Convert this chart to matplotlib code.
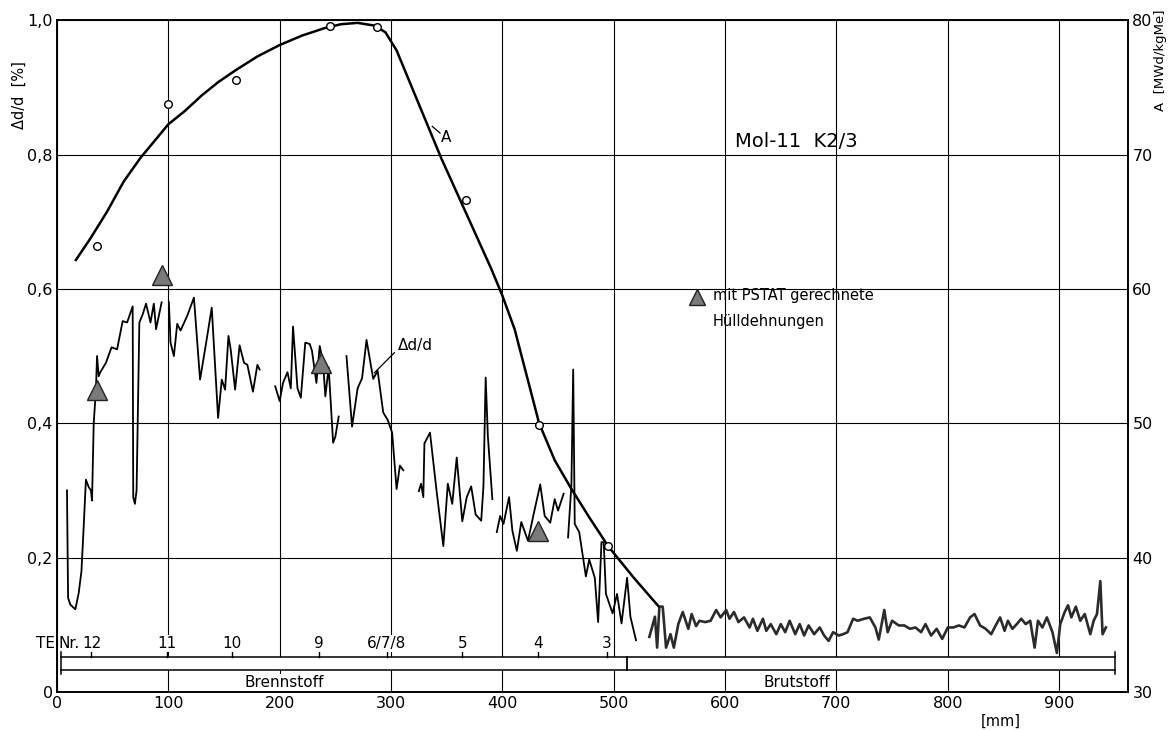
import numpy as np
import matplotlib
matplotlib.use("Agg")
import matplotlib.pyplot as plt
from matplotlib.patches import Rectangle

plt.rcParams['font.family'] = ['DejaVu Sans']
plt.rcParams['font.size'] = 11

# --- Abbrand-Kurve A [MWd/kgMe] (rechte Achse) ---
a_x = [17, 30, 45, 60, 75, 90, 100, 115, 130, 145, 160, 180, 200, 220, 240, 255, 270, 285, 295, 305,
       315, 330, 345, 360, 375, 390, 400, 411, 422, 433, 447, 461, 478, 495, 518, 540]
a_y = [62.15, 63.75, 65.75, 68.0, 69.75, 71.25, 72.25, 73.25, 74.4, 75.4, 76.25, 77.3, 78.15, 78.85, 79.4, 79.7, 79.8, 79.6, 79.1, 77.75,
       75.75, 72.75, 69.75, 67.0, 64.25, 61.5, 59.5, 57.0, 53.5, 50.0, 47.25, 45.25, 43.0, 40.85, 38.5, 36.4]

# Messpunkte A (Kreise)
pts_x = [36, 100, 161, 245, 287, 367, 433, 495]
pts_a = [63.2, 73.75, 75.55, 79.55, 79.5, 66.65, 49.85, 40.85]

# PSTAT-Huelldehnungen (Dreiecke), linke Achse
pstat_x = [35.6, 94, 237, 432]
pstat_y = [0.45, 0.621, 0.49, 0.24]

# --- gemessene Durchmesseraenderung dd/d [%], Abschnitte ---
seg1_x = [9, 10, 12, 16.5, 19.5, 22, 24, 26, 28.5, 30.5, 31.5, 33, 35, 36, 37.5, 38.6, 44, 49, 54, 59, 63, 68, 68.5, 70, 71.5, 72.5, 74, 77, 80, 84, 87, 89, 94]
seg1_y = [0.30, 0.14, 0.13, 0.123, 0.147, 0.18, 0.246, 0.316, 0.305, 0.30, 0.285, 0.40, 0.45, 0.50, 0.47, 0.475, 0.49, 0.513, 0.51, 0.552, 0.55, 0.574, 0.29, 0.28, 0.30, 0.40, 0.55, 0.562, 0.578, 0.55, 0.578, 0.54, 0.58]
seg2_x = [100.5, 102, 105, 108, 111, 117, 123, 128.5, 134, 139, 144.7, 148, 151, 154, 156, 160, 164, 168, 171, 176, 180, 182]
seg2_y = [0.58, 0.52, 0.50, 0.548, 0.538, 0.56, 0.587, 0.465, 0.52, 0.572, 0.408, 0.465, 0.45, 0.53, 0.51, 0.45, 0.516, 0.49, 0.487, 0.447, 0.487, 0.48]
seg3_x = [196, 200, 203, 207, 210, 212, 216, 219, 223, 227, 229, 233, 236, 239, 241, 244, 248, 250, 253]
seg3_y = [0.455, 0.433, 0.46, 0.476, 0.452, 0.544, 0.452, 0.438, 0.52, 0.518, 0.508, 0.46, 0.515, 0.49, 0.44, 0.483, 0.371, 0.38, 0.41]
seg4_x = [260, 265, 270, 274, 278, 284, 288, 293, 297, 301, 305, 308, 311]
seg4_y = [0.50, 0.395, 0.452, 0.467, 0.524, 0.466, 0.478, 0.416, 0.405, 0.386, 0.302, 0.337, 0.33]
seg5_x = [325, 327, 329, 330, 335, 341, 347, 351, 355, 359, 364, 368, 372, 376, 381, 383, 385, 387, 391]
seg5_y = [0.299, 0.31, 0.29, 0.37, 0.386, 0.298, 0.217, 0.31, 0.28, 0.349, 0.254, 0.29, 0.306, 0.264, 0.255, 0.306, 0.468, 0.38, 0.287]
seg6_x = [395, 398, 401, 406, 409, 413, 417, 423, 428, 434, 438, 443, 447, 450, 455]
seg6_y = [0.238, 0.262, 0.25, 0.29, 0.24, 0.21, 0.253, 0.225, 0.264, 0.309, 0.262, 0.252, 0.287, 0.27, 0.295]
seg7_x = [459, 462, 463.6, 465, 469, 475, 478, 483, 486, 489, 491, 493, 499, 503, 507, 512, 515, 520]
seg7_y = [0.23, 0.308, 0.48, 0.25, 0.238, 0.172, 0.197, 0.17, 0.104, 0.223, 0.223, 0.146, 0.117, 0.146, 0.102, 0.17, 0.112, 0.077]
seg8_x = [532, 537, 539, 541, 544, 547, 551, 554, 558, 562, 567, 570, 574, 577, 582, 587, 592, 596, 601, 604,
          608, 612, 617, 622, 625, 629, 634, 637, 641, 646, 650, 654, 658, 663, 667, 671, 675, 680, 685, 689,
          693, 697, 702, 706, 710, 715, 719, 725, 730, 735, 738, 743, 746, 750, 756, 761, 766, 771, 776, 780,
          785, 790, 795, 800, 805, 810, 815, 820, 824, 829, 834, 839, 843, 847, 851, 854, 858, 862, 866, 870,
          874, 878, 881, 885, 889, 894, 898, 901, 905, 908, 911, 915, 919, 923, 928, 931, 934, 937, 939, 942]
seg8_y = [0.082, 0.112, 0.066, 0.127, 0.127, 0.066, 0.086, 0.066, 0.101, 0.119, 0.094, 0.116, 0.098, 0.106, 0.104, 0.106, 0.122, 0.111, 0.122, 0.109,
          0.119, 0.104, 0.111, 0.096, 0.109, 0.091, 0.109, 0.091, 0.101, 0.086, 0.101, 0.089, 0.106, 0.086, 0.101, 0.084, 0.099, 0.086, 0.096, 0.084,
          0.076, 0.089, 0.084, 0.086, 0.089, 0.109, 0.106, 0.109, 0.111, 0.096, 0.078, 0.122, 0.089, 0.106, 0.099, 0.099, 0.094, 0.096, 0.089, 0.101,
          0.084, 0.094, 0.079, 0.096, 0.096, 0.099, 0.096, 0.111, 0.116, 0.099, 0.094, 0.086, 0.099, 0.111, 0.091, 0.106, 0.094, 0.101, 0.109, 0.101,
          0.106, 0.066, 0.106, 0.096, 0.111, 0.089, 0.058, 0.101, 0.119, 0.129, 0.111, 0.127, 0.106, 0.116, 0.086, 0.106, 0.116, 0.165, 0.086, 0.096]

# Tragelemente (TE) Positionen
te_x = [31, 99, 157, 235, 296, 364, 432, 494]
te_lbl = ["12", "11", "10", "9", "6/7/8", "5", "4", "3"]

x_ticks = [0, 100, 200, 300, 400, 500, 600, 700, 800, 900]
y_ticks = [0, 0.2, 0.4, 0.6, 0.8, 1.0]
y_lbls = ["0", "0,2", "0,4", "0,6", "0,8", "1,0"]
a_ticks = [30, 40, 50, 60, 70, 80]

fig = plt.figure(figsize=(11.72, 7.31), dpi=100)
ax = fig.add_axes([0.0486, 0.0534, 0.914, 0.919])
ax.set_xlim(0, 962)
ax.set_ylim(0, 1.0)
ax.set_xticks(x_ticks)
ax.set_yticks(y_ticks)
ax.set_yticklabels(y_lbls)
ax.tick_params(length=0, pad=3, labelsize=11.5)
ax.grid(True, color="black", lw=0.8)
ax.set_axisbelow(True)
for s in ax.spines.values():
    s.set_linewidth(1.2)

# Balken unten (Brennstoff / Brutstoff)
ax.add_patch(Rectangle((4, 0.033), 946, 0.019, facecolor="white", edgecolor="none", zorder=1.5))
ax.plot([4, 950], [0.052, 0.052], color="black", lw=1.1, zorder=3)
ax.plot([4, 950], [0.033, 0.033], color="black", lw=1.1, zorder=3)
for xe in [4, 950]:
    ax.plot([xe, xe], [0.027, 0.059], color="black", lw=1.1, zorder=3)
ax.plot([512, 512], [0.033, 0.052], color="black", lw=1.3, zorder=3)
for xt, lb in zip(te_x, te_lbl):
    ax.plot([xt, xt], [0.052, 0.060], color="black", lw=1.0, zorder=3)
    ax.text(xt, 0.072, lb, ha="center", va="center", fontsize=11,
            bbox=dict(facecolor="white", edgecolor="none", pad=0.5), zorder=4)
ax.text(11, 0.072, "Nr.", ha="center", va="center", fontsize=11)
ax.text(-2, 0.072, "TE", ha="right", va="center", fontsize=11, clip_on=False)
ax.text(204, 0.014, "Brennstoff", ha="center", va="center", fontsize=11,
        bbox=dict(facecolor="white", edgecolor="none", pad=0.5), zorder=4)
ax.text(664, 0.014, "Brutstoff", ha="center", va="center", fontsize=11,
        bbox=dict(facecolor="white", edgecolor="none", pad=0.5), zorder=4)

# Durchmesseraenderung
for sx, sy in [(seg1_x, seg1_y), (seg2_x, seg2_y), (seg3_x, seg3_y), (seg4_x, seg4_y),
               (seg5_x, seg5_y), (seg6_x, seg6_y), (seg7_x, seg7_y)]:
    ax.plot(sx, sy, color="black", lw=1.3, zorder=3)
ax.plot(seg8_x, seg8_y, color="#2b2b2b", lw=1.9, zorder=3)

ax.plot(pstat_x, pstat_y, linestyle="none", marker="^", ms=14,
        markerfacecolor="#7a7a7a", markeredgecolor="#222222", zorder=4)

# Beschriftungen
ax.text(306, 0.515, "\u0394d/d", ha="left", va="center", fontsize=11)
ax.plot([285, 303], [0.475, 0.505], color="black", lw=0.9)
ax.text(345, 0.826, "A", ha="left", va="center", fontsize=11)
ax.plot([337, 344], [0.842, 0.832], color="black", lw=0.9)
ax.text(609, 0.819, "Mol-11  K2/3", ha="left", va="center", fontsize=14)
ax.plot([575], [0.588], marker="^", ms=11, markerfacecolor="#7a7a7a", markeredgecolor="#222222")
ax.text(589, 0.590, "mit PSTAT gerechnete", ha="left", va="center", fontsize=10.5)
ax.text(589, 0.552, "H\u00fclldehnungen", ha="left", va="center", fontsize=10.5)
ax.text(848, -0.043, "[mm]", ha="center", va="center", fontsize=10.5, clip_on=False)
ax.text(-0.035, 0.889, "\u0394d/d  [%]", transform=ax.transAxes, rotation=90,
        ha="center", va="center", fontsize=10.5)

# rechte Achse: Abbrand
ax2 = ax.twinx()
ax2.set_ylim(30, 80)
ax2.set_yticks(a_ticks)
ax2.tick_params(length=0, pad=3, labelsize=11.5)
for s in ax2.spines.values():
    s.set_linewidth(1.2)
ax2.plot(a_x, a_y, color="black", lw=1.8)
ax2.plot(pts_x, pts_a, linestyle="none", marker="o", ms=5.5,
         markerfacecolor="white", markeredgecolor="black", mew=1.0)
ax2.text(1.030, 0.94, "A  [MWd/kgMe]", transform=ax2.transAxes, rotation=90,
         ha="center", va="center", fontsize=9.5)

fig.savefig("out.png", dpi=100)
